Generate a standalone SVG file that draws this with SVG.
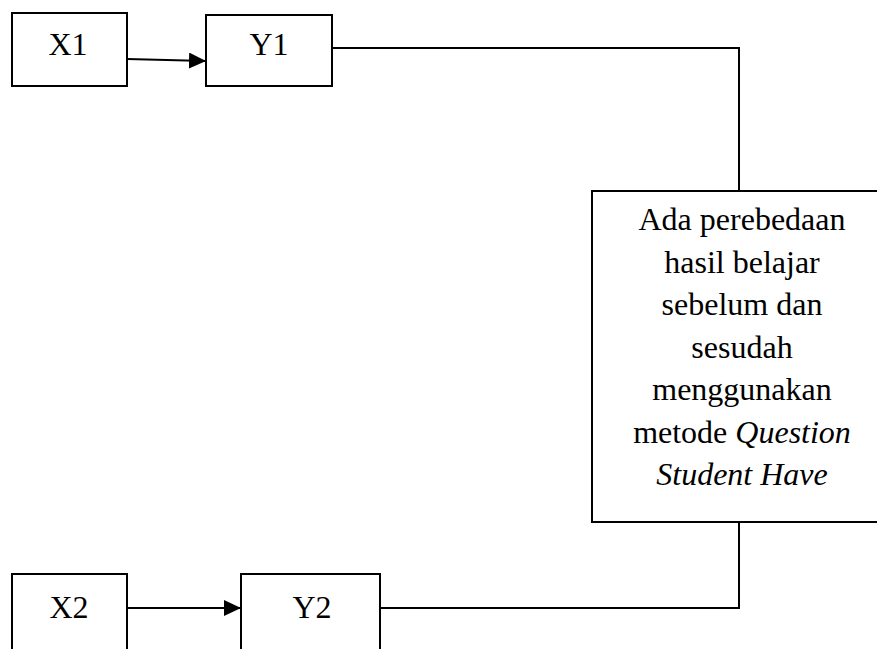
<svg xmlns="http://www.w3.org/2000/svg" width="877" height="649" viewBox="0 0 877 649">
  <defs>
    <marker id="arrow" markerWidth="17" markerHeight="16" refX="17" refY="8" orient="auto" markerUnits="userSpaceOnUse">
      <path d="M0,0 L17,8 L0,16 Z" fill="#000"/>
    </marker>
  </defs>
  <style>
    .box { fill: #fff; stroke: #000; stroke-width: 2; }
    .conn { fill: none; stroke: #000; stroke-width: 2; }
    .lbl { font-family: "Liberation Serif", "Times New Roman", serif; font-size: 32px; fill: #000; text-anchor: middle; }
    .it { font-style: italic; }
  </style>
  <rect width="877" height="649" fill="#fff"/>
  <g id="connectors">
    <line class="conn" x1="127" y1="59" x2="206" y2="61" stroke-width="2.4" marker-end="url(#arrow)"/>
    <polyline class="conn" points="332,48 739,48 739,191"/>
    <polyline class="conn" points="739,522 739,608 380,608"/>
    <line class="conn" x1="127" y1="608" x2="241" y2="608" stroke-width="2.4" marker-end="url(#arrow)"/>
  </g>
  <g id="X1">
    <rect class="box" x="12" y="13" width="115" height="73"/>
    <text class="lbl" x="68" y="55">X1</text>
  </g>
  <g id="Y1">
    <rect class="box" x="206" y="15" width="126" height="71"/>
    <text class="lbl" x="269" y="55">Y1</text>
  </g>
  <g id="result">
    <rect class="box" x="592" y="191" width="310" height="331"/>
    <text class="lbl" x="742" y="230">Ada perebedaan</text>
    <text class="lbl" x="742" y="272.5">hasil belajar</text>
    <text class="lbl" x="742" y="315">sebelum dan</text>
    <text class="lbl" x="742" y="357.5">sesudah</text>
    <text class="lbl" x="742" y="400">menggunakan</text>
    <text class="lbl" x="742" y="442.5">metode <tspan class="it">Question</tspan></text>
    <text class="lbl it" x="742" y="485">Student Have</text>
  </g>
  <g id="X2">
    <rect class="box" x="12" y="574" width="115" height="120"/>
    <text class="lbl" x="69" y="618">X2</text>
  </g>
  <g id="Y2">
    <rect class="box" x="241" y="574" width="139" height="120"/>
    <text class="lbl" x="312" y="618">Y2</text>
  </g>
</svg>
